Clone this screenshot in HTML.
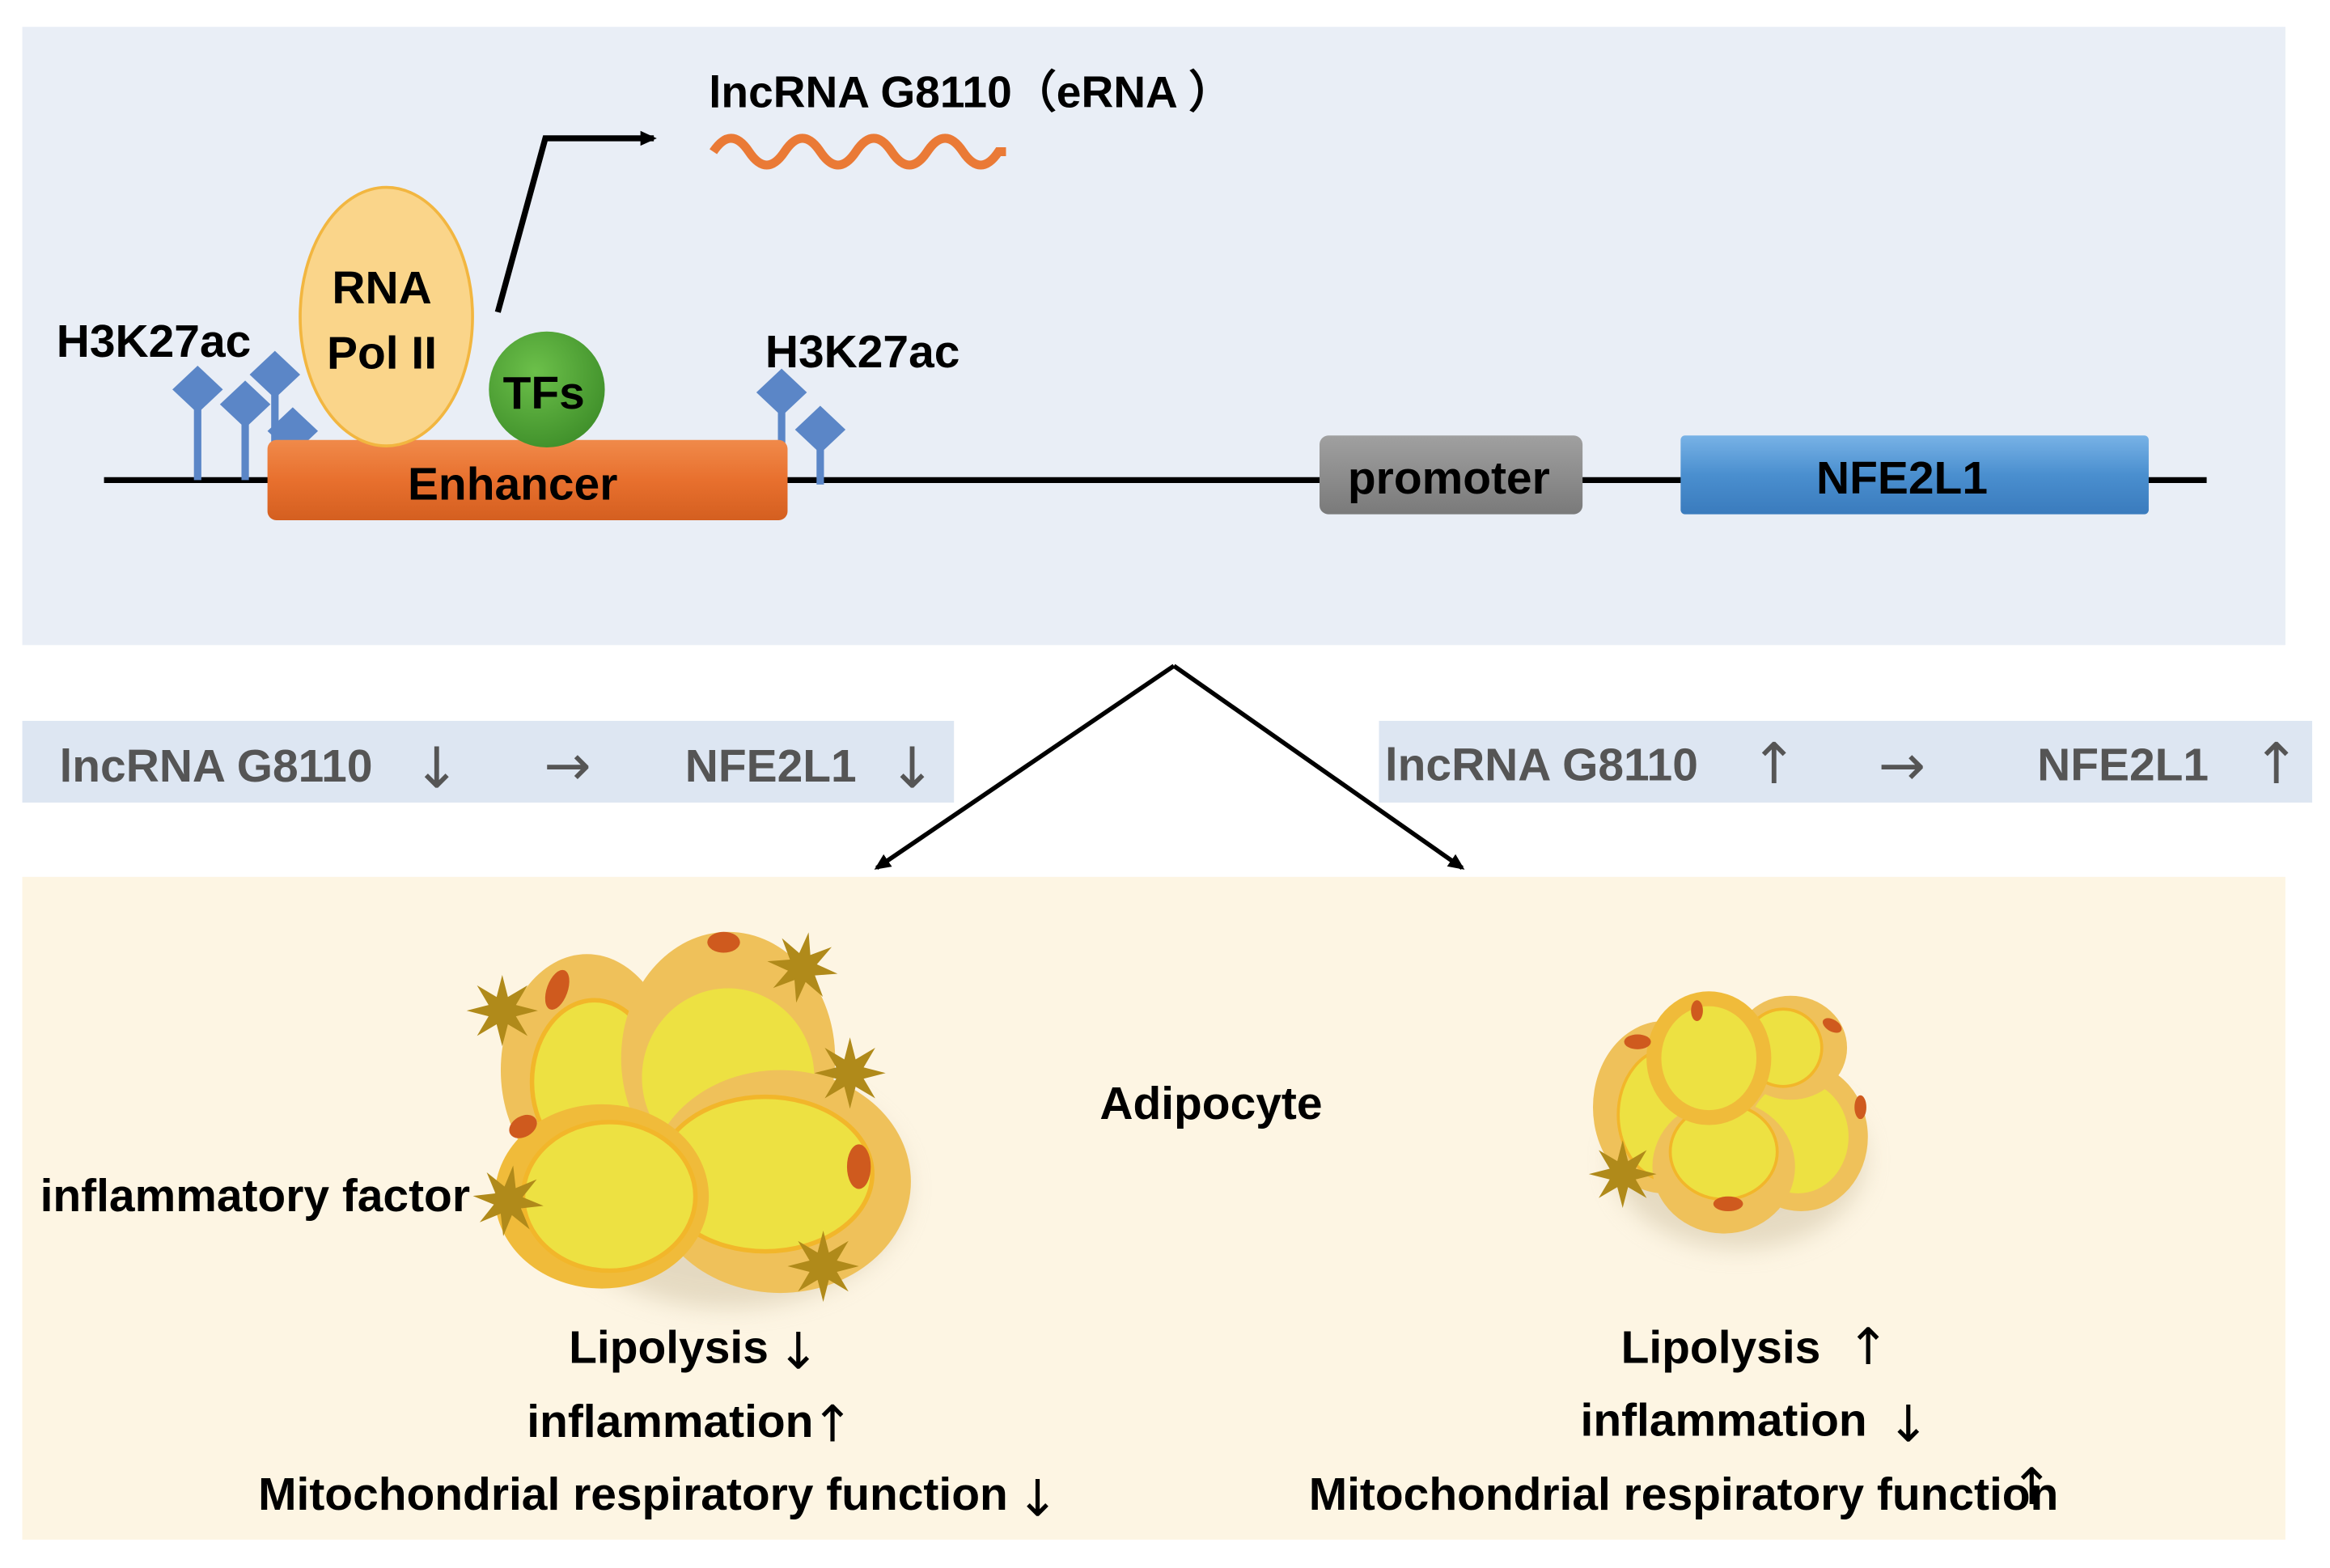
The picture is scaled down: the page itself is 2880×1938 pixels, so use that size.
<!DOCTYPE html>
<html><head><meta charset="utf-8"><style>
html,body{margin:0;padding:0;background:#fff}
svg{display:block}
text{font-family:"Liberation Sans",Arial,sans-serif;font-weight:bold}
.ar{font-family:"DejaVu Sans",sans-serif;font-weight:normal}
</style></head><body>
<svg width="2880" height="1938" viewBox="0 0 1568 1055" xmlns="http://www.w3.org/2000/svg">
<defs>
<linearGradient id="eg" x1="0" y1="0" x2="0" y2="1"><stop offset="0" stop-color="#f08a4a"/><stop offset="0.5" stop-color="#e8702e"/><stop offset="1" stop-color="#d45f20"/></linearGradient>
<linearGradient id="bg" x1="0" y1="0" x2="0" y2="1"><stop offset="0" stop-color="#78b2e6"/><stop offset="0.5" stop-color="#4a8fcf"/><stop offset="1" stop-color="#3a7bbd"/></linearGradient>
<linearGradient id="gg" x1="0" y1="0" x2="0" y2="1"><stop offset="0" stop-color="#a0a0a0"/><stop offset="1" stop-color="#7a7a7a"/></linearGradient>
<radialGradient id="tg" cx="0.4" cy="0.35" r="0.7"><stop offset="0" stop-color="#6cc04a"/><stop offset="1" stop-color="#3f8f2a"/></radialGradient>
<filter id="sh" x="-30%" y="-30%" width="160%" height="160%"><feGaussianBlur stdDeviation="8"/></filter>
<marker id="ah" markerWidth="12" markerHeight="12" refX="9" refY="6" orient="auto" markerUnits="userSpaceOnUse"><path d="M0,1 L11,6 L0,11 Z" fill="#000"/></marker>
<polygon id="star" points="24,0 9.2,3.8 17,17 3.8,9.2 0,24 -3.8,9.2 -17,17 -9.2,3.8 -24,0 -9.2,-3.8 -17,-17 -3.8,-9.2 0,-24 3.8,-9.2 17,-17 9.2,-3.8" fill="#b08a1a"/>
</defs>
<rect width="1568" height="1055" fill="#fff"/>
<rect x="15" y="18" width="1523" height="416" fill="#e9eef6"/>
<line x1="70" y1="323" x2="1485" y2="323" stroke="#000" stroke-width="4"/>
<g stroke="#5b86c7" stroke-width="5">
<line x1="133" y1="262" x2="133" y2="323"/><line x1="165" y1="272" x2="165" y2="323"/><line x1="185" y1="252" x2="185" y2="300"/><line x1="197" y1="290" x2="197" y2="320"/>
<line x1="526" y1="264" x2="526" y2="300"/><line x1="552" y1="289" x2="552" y2="326"/>
</g>
<g fill="#5b86c7">
<path d="M133,246 l17,16 l-17,16 l-17,-16z"/><path d="M165,256 l17,16 l-17,16 l-17,-16z"/><path d="M185,236 l17,16 l-17,16 l-17,-16z"/><path d="M197,274 l17,16 l-17,16 l-17,-16z"/>
<path d="M526,248 l17,16 l-17,16 l-17,-16z"/><path d="M552,273 l17,16 l-17,16 l-17,-16z"/>
</g>
<rect x="180" y="296" width="350" height="54" rx="6" fill="url(#eg)"/>
<text x="345" y="336" font-size="31" text-anchor="middle" fill="#000">Enhancer</text>
<ellipse cx="260" cy="213" rx="58" ry="87" fill="#fad58a" stroke="#f2b640" stroke-width="2"/>
<text x="257" y="204" font-size="31" text-anchor="middle">RNA</text>
<text x="257" y="248" font-size="31" text-anchor="middle">Pol II</text>
<circle cx="368" cy="262" r="39" fill="url(#tg)"/>
<text x="366" y="275" font-size="31" text-anchor="middle">TFs</text>
<polyline points="335,210 367,93 440,93" fill="none" stroke="#000" stroke-width="4" marker-end="url(#ah)"/>
<text x="477" y="72" font-size="30">lncRNA G8110（eRNA ）</text>
<path d="M480,102 q12,-18 24,0 t24,0 t24,0 t24,0 t24,0 t24,0 t24,0 t24,0 l5,0" fill="none" stroke="#ea7a36" stroke-width="6"/>
<text x="38" y="240" font-size="31">H3K27ac</text>
<text x="515" y="247" font-size="31">H3K27ac</text>
<rect x="888" y="293" width="177" height="53" rx="6" fill="url(#gg)"/>
<text x="975" y="332" font-size="31" text-anchor="middle">promoter</text>
<rect x="1131" y="293" width="315" height="53" rx="3" fill="url(#bg)"/>
<text x="1280" y="332" font-size="31" text-anchor="middle">NFE2L1</text>
<line x1="790" y1="448" x2="590" y2="584" stroke="#000" stroke-width="3" marker-end="url(#ah)"/>
<line x1="790" y1="448" x2="984" y2="584" stroke="#000" stroke-width="3" marker-end="url(#ah)"/>
<rect x="15" y="485" width="627" height="55" fill="#dde6f2"/>
<rect x="928" y="485" width="628" height="55" fill="#dde6f2"/>
<g fill="#555" font-size="31">
<text x="40" y="526">lncRNA G8110</text><text x="461" y="526">NFE2L1</text>
<text x="932" y="525">lncRNA G8110</text><text x="1371" y="525">NFE2L1</text>
</g>
<g fill="#555" font-size="38" class="ar">
<text class="ar" x="278" y="530">↓</text><text class="ar" x="366" y="528">→</text><text class="ar" x="598" y="530">↓</text>
<text class="ar" x="1178" y="527">↑</text><text class="ar" x="1264" y="528">→</text><text class="ar" x="1516" y="527">↑</text>
</g>
<rect x="15" y="590" width="1523" height="446" fill="#fdf5e3"/>
<g>
<ellipse cx="490" cy="800" rx="120" ry="80" fill="#cdbfa0" opacity="0.5" filter="url(#sh)"/>
<ellipse cx="395" cy="720" rx="58" ry="78" fill="#efc15a"/>
<ellipse cx="400" cy="728" rx="42" ry="55" fill="#ede142" stroke="#f2b62a" stroke-width="3"/>
<ellipse cx="490" cy="712" rx="72" ry="85" fill="#efc15a"/>
<ellipse cx="490" cy="725" rx="58" ry="60" fill="#ede142"/>
<ellipse cx="525" cy="795" rx="88" ry="75" fill="#efc15a"/>
<ellipse cx="515" cy="790" rx="72" ry="52" fill="#ede142" stroke="#f2b62a" stroke-width="3"/>
<ellipse cx="405" cy="805" rx="72" ry="62" fill="#f0bb3a"/>
<ellipse cx="410" cy="805" rx="58" ry="50" fill="#ede142" stroke="#f2b62a" stroke-width="3"/>
<ellipse cx="487" cy="634" rx="11" ry="7" fill="#cf5a1e"/>
<ellipse cx="375" cy="666" rx="7" ry="14" fill="#cf5a1e" transform="rotate(20 375 666)"/>
<ellipse cx="352" cy="758" rx="10" ry="7" fill="#cf5a1e" transform="rotate(-30 352 758)"/>
<ellipse cx="578" cy="785" rx="8" ry="15" fill="#cf5a1e"/>
<use href="#star" transform="translate(338,680)"/>
<use href="#star" transform="translate(540,651) rotate(10)"/>
<use href="#star" transform="translate(572,722)"/>
<use href="#star" transform="translate(342,808) rotate(8)"/>
<use href="#star" transform="translate(554,852)"/>
</g>
<g>
<ellipse cx="1170" cy="780" rx="85" ry="60" fill="#cdbfa0" opacity="0.5" filter="url(#sh)"/>
<ellipse cx="1120" cy="745" rx="48" ry="58" fill="#efc15a"/>
<ellipse cx="1125" cy="750" rx="36" ry="45" fill="#ede142" stroke="#f2b62a" stroke-width="2"/>
<ellipse cx="1212" cy="765" rx="45" ry="50" fill="#efc15a"/>
<ellipse cx="1210" cy="765" rx="34" ry="38" fill="#ede142"/>
<ellipse cx="1205" cy="705" rx="38" ry="35" fill="#efc15a"/>
<ellipse cx="1200" cy="705" rx="26" ry="26" fill="#ede142" stroke="#f2b62a" stroke-width="2"/>
<ellipse cx="1160" cy="785" rx="48" ry="45" fill="#efc15a"/>
<ellipse cx="1160" cy="775" rx="36" ry="32" fill="#ede142" stroke="#f2b62a" stroke-width="2"/>
<ellipse cx="1150" cy="712" rx="42" ry="45" fill="#f0bb3a"/>
<ellipse cx="1150" cy="712" rx="32" ry="35" fill="#ede142"/>
<ellipse cx="1163" cy="810" rx="10" ry="5" fill="#cf5a1e"/>
<ellipse cx="1102" cy="701" rx="9" ry="5" fill="#cf5a1e"/>
<ellipse cx="1142" cy="680" rx="4" ry="7" fill="#cf5a1e"/>
<ellipse cx="1233" cy="690" rx="7" ry="4" fill="#cf5a1e" transform="rotate(30 1233 690)"/>
<ellipse cx="1252" cy="745" rx="4" ry="8" fill="#cf5a1e"/>
<use href="#star" transform="translate(1092,790) scale(0.95)"/>
</g>
<g font-size="31" fill="#000">
<text x="815" y="753" text-anchor="middle">Adipocyte</text>
<text x="27" y="815">inflammatory factor</text>
<text x="450" y="917" text-anchor="middle">Lipolysis</text>
<text x="451" y="967" text-anchor="middle">inflammation</text>
<text x="426" y="1016" text-anchor="middle">Mitochondrial respiratory function</text>
<text x="1158" y="917" text-anchor="middle">Lipolysis</text>
<text x="1160" y="966" text-anchor="middle">inflammation</text>
<text x="1133" y="1016" text-anchor="middle">Mitochondrial respiratory function</text>
</g>
<g font-size="34" fill="#000">
<text class="ar" x="523" y="921">↓</text>
<text class="ar" x="546" y="970">↑</text>
<text class="ar" x="684" y="1020">↓</text>
<text class="ar" x="1243" y="918">↑</text>
<text class="ar" x="1270" y="970">↓</text>
<text class="ar" x="1353" y="1012">↑</text>
</g>
</svg>
</body></html>
